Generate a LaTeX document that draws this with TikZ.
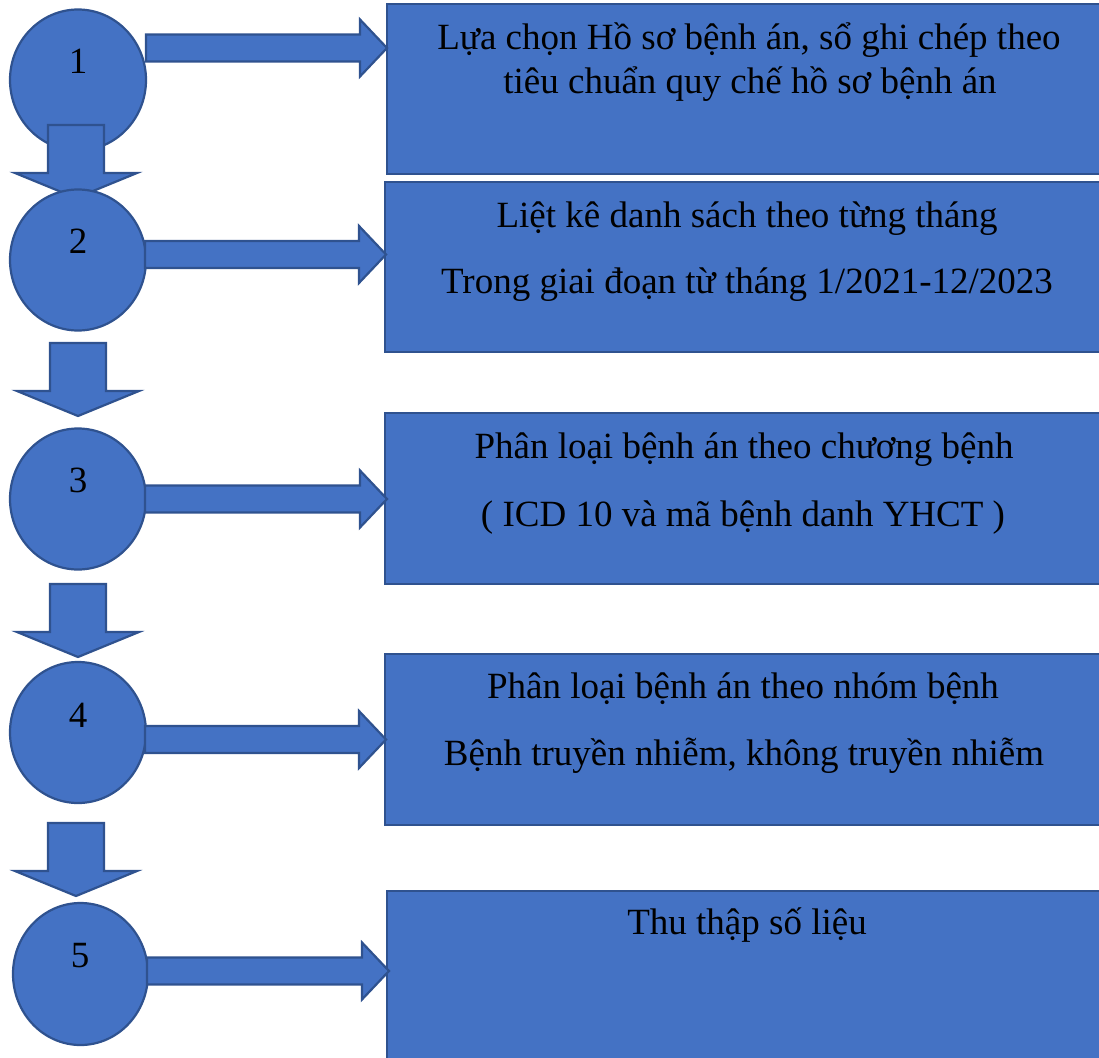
\documentclass[tikz,border=0pt]{standalone}
\usepackage{fontspec}
\setmainfont{Liberation Serif}
\usetikzlibrary{shapes.geometric}
\definecolor{fillblue}{HTML}{4472C4}
\definecolor{lineblue}{HTML}{2F528F}
\tikzset{
  shapebox/.style={draw=lineblue, fill=fillblue, line width=2.2pt, line join=miter},
  stepcircle/.style={shapebox, ellipse, minimum width=136pt, minimum height=141pt, inner sep=0pt},
  stepbox/.style={shapebox, rectangle, anchor=north west, minimum width=722pt, inner sep=0pt},
  txt/.style={anchor=base, inner sep=0pt, font=\fontsize{37}{43}\selectfont, text=black}
}
% horizontal block arrow: start x, tip x, centre y
\newcommand\harrow[3]{%
  \draw[shapebox] (#1,#3-13.5) -- (#2-27,#3-13.5) -- (#2-27,#3-28.5) -- (#2,#3)
    -- (#2-27,#3+28.5) -- (#2-27,#3+13.5) -- (#1,#3+13.5) -- cycle;}
% vertical block arrow: centre x, top y, head base y
\newcommand\varrow[3]{%
  \draw[shapebox] (#1-28,#2) -- (#1+28,#2) -- (#1+28,#3) -- (#1+61,#3) -- (#1,#3+25)
    -- (#1-61,#3) -- (#1-28,#3) -- cycle;}
\begin{document}
\begin{tikzpicture}[x=1pt,y=-1pt]
\useasboundingbox (0,0) rectangle (1099,1057);
\clip (0,0) rectangle (1099,1057);

% boxes
\node[stepbox, minimum height=170pt] (r1) at (386,3) {};
\node[stepbox, minimum height=170pt] (r2) at (384,181) {};
\node[stepbox, minimum height=171pt] (r3) at (384,412) {};
\node[stepbox, minimum height=171pt] (r4) at (384,653) {};
\node[stepbox, minimum height=200pt] (r5) at (386,890) {};

% circles and down arrows
\node[stepcircle] (c1) at (78,80) {};
\varrow{76}{125}{173}
\node[stepcircle] (c2) at (78,260) {};
\varrow{78}{343}{391}
\node[stepcircle] (c3) at (78,499) {};
\varrow{78}{584}{632}
\node[stepcircle] (c4) at (78,732.5) {};
\varrow{76}{823}{871}
\node[stepcircle, minimum width=135pt, minimum height=142pt] (c5) at (80.5,974) {};

% right arrows
\harrow{146}{387}{48}
\harrow{145}{386}{254.5}
\harrow{145}{387}{499}
\harrow{145}{386}{739.5}
\harrow{147}{389}{971}

% numbers
\node[txt] (n1) at (78,73) {1};
\node[txt] (n2) at (78,253) {2};
\node[txt] (n3) at (78,492) {3};
\node[txt] (n4) at (78,727) {4};
\node[txt] (n5) at (80,967) {5};

% box texts
\node[txt] (t1a) at (749,50) {Lựa chọn Hồ sơ bệnh án, sổ ghi chép theo};
\node[txt] (t1b) at (750,93) {tiêu chuẩn quy chế hồ sơ bệnh án};
\node[txt] (t2a) at (747,227) {Liệt kê danh sách theo từng tháng};
\node[txt] (t2b) at (747,293) {Trong giai đoạn từ tháng 1/2021-12/2023};
\node[txt] (t3a) at (744,458) {Phân loại bệnh án theo chương bệnh};
\node[txt] (t3b) at (743,526) {( ICD 10 và mã bệnh danh YHCT )};
\node[txt] (t4a) at (743,698) {Phân loại bệnh án theo nhóm bệnh};
\node[txt] (t4b) at (744,765) {Bệnh truyền nhiễm, không truyền nhiễm};
\node[txt] (t5a) at (747,934) {Thu thập số liệu};
\end{tikzpicture}
\end{document}
